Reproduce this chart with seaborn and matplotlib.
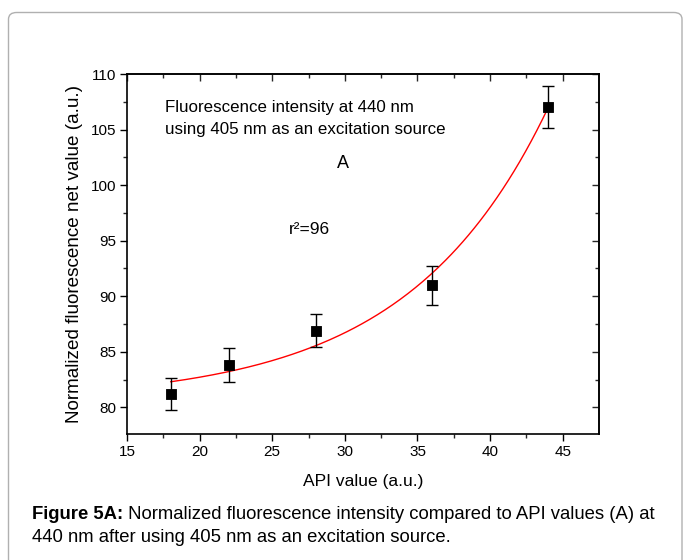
import numpy as np
import pandas as pd
import matplotlib
matplotlib.use("Agg")
import matplotlib.pyplot as plt
import seaborn as sns
from matplotlib.patches import FancyBboxPatch

# ---- data ----
api_values = [18, 22, 28, 36, 44]
fluorescence = [81.2, 83.8, 86.9, 91.0, 107.0]
errors = [1.45, 1.55, 1.5, 1.75, 1.9]
# exponential growth fit y = y0 + A*exp(x/t)
fit_y0 = 80.51
fit_A = 0.277
fit_t = 9.65
x_ticks = [15, 20, 25, 30, 35, 40, 45]
y_ticks = [80, 85, 90, 95, 100, 105, 110]

sns.set_theme(style="white")
plt.rcParams['font.family'] = ['Liberation Sans', 'DejaVu Sans']

df = pd.DataFrame({"api": api_values, "fl": fluorescence, "err": errors})
xfit = np.linspace(min(api_values), max(api_values), 200)
fit_df = pd.DataFrame({"api": xfit, "fl": fit_y0 + fit_A * np.exp(xfit / fit_t)})

fig = plt.figure(figsize=(6.83, 5.6), dpi=100)
# border frame
frame = FancyBboxPatch((8.5 / 683, -0.05), (682 - 8.5) / 683, 1 - 12.5 / 560 + 0.05,
                       boxstyle="round,pad=0,rounding_size=0.012",
                       transform=fig.transFigure, facecolor="none",
                       edgecolor="#b0b0b0", linewidth=1.0, zorder=-10)
fig.patches.append(frame)

ax = fig.add_axes([127 / 683, 1 - 434 / 560, (599 - 127) / 683, (434 - 74) / 560])
ax.set_facecolor("none")

sns.lineplot(data=fit_df, x="api", y="fl", ax=ax, color="red", linewidth=1.0, zorder=2)
ax.errorbar(df["api"], df["fl"], yerr=df["err"], fmt="none", ecolor="black",
            elinewidth=1.0, capsize=4, capthick=1.0, zorder=3)
sns.scatterplot(data=df, x="api", y="fl", ax=ax, marker="s", s=60, color="black",
                edgecolor="black", zorder=4)

ax.set_xlim(15, 47.5)
ax.set_ylim(77.6, 110)
ax.set_xticks(x_ticks)
ax.set_yticks(y_ticks)
ax.set_xticks(np.arange(17.5, 47.5, 5), minor=True)
ax.set_yticks(np.arange(77.5, 110, 5)[1:], minor=True)
ax.tick_params(axis="both", which="major", direction="out", length=5, width=1,
               labelsize=11, colors="black", pad=3)
ax.tick_params(axis="both", which="minor", direction="out", length=3, width=1)
ax.tick_params(bottom=True, left=True, which="both")
for s in ax.spines.values():
    s.set_visible(True)
    s.set_color("black")
    s.set_linewidth(1.2)

# top and right ticks pointing inward
top = ax.secondary_xaxis("top")
top.set_xticks(x_ticks)
top.set_xticks(np.arange(17.5, 47.5, 5), minor=True)
top.tick_params(which="both", top=True, direction="in", labeltop=False)
top.tick_params(which="major", length=5, width=1)
top.tick_params(which="minor", length=3, width=1)
top.set_xticklabels([])
right = ax.secondary_yaxis("right")
right.set_yticks(y_ticks)
right.set_yticks(np.arange(82.5, 110, 5), minor=True)
right.tick_params(which="both", right=True, direction="in", labelright=False)
right.tick_params(which="major", length=5, width=1)
right.tick_params(which="minor", length=3, width=1)
right.set_yticklabels([])

ax.set_xlabel("API value (a.u.)", fontsize=12.5, color="black", labelpad=11)
ax.set_ylabel("Normalized fluorescence net value (a.u.)", fontsize=13.6, color="black", labelpad=5)

ax.text(17.6, 106.0, "Fluorescence intensity at 440 nm\nusing 405 nm as an excitation source",
        fontsize=12.2, color="black", va="center", ha="left", linespacing=1.55)
ax.text(29.9, 101.9, "A", fontsize=13, color="black", ha="center", va="center")
ax.text(26.15, 96.0, "r\u00b2=96", fontsize=12.5, color="black", ha="left", va="center")

t1 = fig.text(32 / 683, 1 - 519 / 560, "Figure 5A:", fontsize=13.3, color="black",
              fontweight="bold", va="baseline", ha="left")
ax.annotate(" Normalized fluorescence intensity compared to API values (A) at",
            xy=(1, 0), xycoords=t1, fontsize=13.3, color="black", va="bottom", ha="left",
            annotation_clip=False)
fig.text(32 / 683, 1 - 542 / 560,
         "440 nm after using 405 nm as an excitation source.",
         fontsize=13.3, color="black", va="baseline", ha="left")

fig.savefig("out.png", dpi=100)
